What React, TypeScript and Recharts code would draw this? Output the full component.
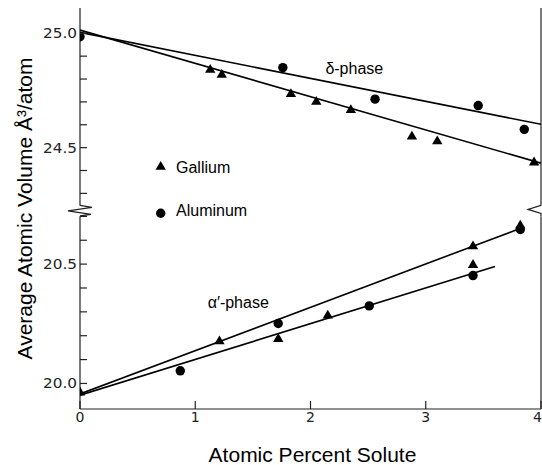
import React from 'react';
import { ComposedChart, Line, Scatter, XAxis, YAxis, ReferenceLine, ReferenceDot, Legend } from 'recharts';

// delta-phase (upper panel), A^3/atom
const gaDeltaX = [1.13, 1.23, 1.83, 2.05, 2.35, 2.88, 3.1, 3.94];
const gaDeltaV = [24.844, 24.822, 24.738, 24.704, 24.668, 24.552, 24.531, 24.439];
const alDeltaX = [0, 1.76, 2.56, 3.455, 3.855];
const alDeltaV = [24.985, 24.85, 24.712, 24.684, 24.58];

// alpha'-phase (lower panel)
const gaAlphaX = [0, 1.21, 1.72, 2.15, 3.41, 3.41, 3.82];
const gaAlphaV = [19.966, 20.18, 20.19, 20.288, 20.578, 20.5, 20.665];
const alAlphaX = [0.87, 1.72, 2.51, 3.41, 3.82];
const alAlphaV = [20.053, 20.251, 20.325, 20.452, 20.645];

// fitted straight lines (end points)
const gaDeltaFitX = [0, 4];
const gaDeltaFitV = [25.014, 24.432];
const alDeltaFitX = [0, 4];
const alDeltaFitV = [25.004, 24.602];
const gaAlphaFitX = [0, 3.85];
const gaAlphaFitV = [19.956, 20.655];
const alAlphaFitX = [0, 3.6];
const alAlphaFitV = [19.951, 20.49];

const xTicks = [0, 1, 2, 3, 4];
const lowerTicks = [20.0, 20.1, 20.2, 20.3, 20.4, 20.5, 20.6, 20.7];
const upperTicks = [24.3, 24.4, 24.5, 24.6, 24.7, 24.8, 24.9, 25.0];
const labelledTicks = [20.0, 20.5, 24.5, 25.0];
const legendNames = ['Gallium', 'Aluminum'];

// broken axis: the upper panel is drawn on the lower panel's axis, shifted and a bit squeezed
const UPPER_ANCHOR = 25.0;
const UPPER_ANCHOR_AT = 21.467;
const UPPER_SQUEEZE = 0.958;
const upper = (v: number) => UPPER_ANCHOR_AT + (v - UPPER_ANCHOR) * UPPER_SQUEEZE;
const Y_MIN = 19.893;
const Y_MAX = 21.573;
const BREAK_AT = 20.723;
const BREAK_GAP = 0.022;

const FONT = '"Liberation Sans", Arial, sans-serif';
const TICK_FONT = '"DejaVu Sans", sans-serif';
const AXIS = '#222';

const toPoints = (xs: number[], vs: number[], map = (v: number) => v) => xs.map((x, i) => ({ x, y: map(vs[i]) }));

const yTicks = [...lowerTicks, ...upperTicks.map(upper)];
const tickLabel = new Map<string, string>();
lowerTicks.forEach((t) => tickLabel.set(t.toFixed(4), labelledTicks.includes(t) ? t.toFixed(1) : ''));
upperTicks.forEach((t) => tickLabel.set(upper(t).toFixed(4), labelledTicks.includes(t) ? t.toFixed(1) : ''));

const Triangle = ({ cx, cy }: any) => (
	<path d={`M${cx},${cy - 5}L${cx + 5.2},${cy + 3.8}L${cx - 5.2},${cy + 3.8}Z`} fill='#000' />
);
const Dot = ({ cx, cy }: any) => <circle cx={cx} cy={cy} r={4.7} fill='#000' />;

const LeftTick = ({ x, y, payload }: any) => {
	const label = tickLabel.get(Number(payload.value).toFixed(4)) ?? '';
	return (
		<g>
			<line x1={x} y1={y} x2={x + 7} y2={y} stroke={AXIS} strokeWidth={1.2} />
			{label && (
				<text x={x - 3} y={y} dy={5} textAnchor='end' fontSize={14} fontFamily={TICK_FONT} fill={AXIS} textLength={34} lengthAdjust='spacingAndGlyphs'>
					{label}
				</text>
			)}
		</g>
	);
};
const RightTick = ({ x, y }: any) => <line x1={x} y1={y} x2={x - 7} y2={y} stroke={AXIS} strokeWidth={1.2} />;
const BottomTick = ({ x, y, payload }: any) => {
	// last label sits on the right edge of the picture, keep it inside
	const last = payload.value === xTicks[xTicks.length - 1];
	return (
		<g>
			<line x1={x} y1={y} x2={x} y2={y - 8} stroke={AXIS} strokeWidth={1.2} />
			<text x={last ? x + 1 : x} y={y + 13} textAnchor={last ? 'end' : 'middle'} fontSize={14} fontFamily={TICK_FONT} fill={AXIS}>
				{payload.value}
			</text>
		</g>
	);
};
const TopTick = ({ x, y }: any) => <line x1={x} y1={y} x2={x} y2={y + 8} stroke={AXIS} strokeWidth={1.2} />;

// zigzags where the axis is broken
const LeftBreak = ({ cx, cy }: any) => (
	<path
		d={`M${cx},${cy - 5.5}L${cx + 12},${cy - 3.5}L${cx - 12},${cy}L${cx + 11},${cy + 3.5}L${cx},${cy + 5}`}
		fill='none'
		stroke={AXIS}
		strokeWidth={1.2}
	/>
);
const RightBreak = ({ cx, cy }: any) => (
	<path d={`M${cx},${cy - 5.5}L${cx - 13},${cy - 1.5}L${cx},${cy + 2.5}L${cx},${cy + 5}`} fill='none' stroke={AXIS} strokeWidth={1.2} />
);

const LegendBox = () => (
	<svg width={130} height={75} style={{ display: 'block' }}>
		<Triangle cx={10.7} cy={16} />
		<text x={26} y={22.5} fontSize={16} fontFamily={FONT} fill='#000'>
			{legendNames[0]}
		</text>
		<Dot cx={10.7} cy={63.3} />
		<text x={26} y={65.7} fontSize={16} fontFamily={FONT} fill='#000'>
			{legendNames[1]}
		</text>
	</svg>
);

const fitLine = (data: { x: number; y: number }[], key: string) => (
	<Line
		key={key}
		data={data}
		dataKey='y'
		stroke='#000'
		strokeWidth={1.6}
		dot={false}
		activeDot={false}
		legendType='none'
		isAnimationActive={false}
	/>
);

export default function App() {
	return (
		<div style={{ position: 'absolute', left: 0, top: 0, width: 542, height: 465, background: '#fff' }}>
			<ComposedChart width={542} height={465} margin={{ top: 8, right: 1, bottom: 0, left: 0 }}>
				<XAxis
					dataKey='x'
					type='number'
					domain={[0, 4]}
					allowDataOverflow
					ticks={xTicks}
					interval={0}
					height={56}
					tickSize={0}
					tickMargin={0}
					tickLine={false}
					tick={BottomTick}
					axisLine={{ stroke: AXIS, strokeWidth: 1.2 }}
					label={{ value: 'Atomic Percent Solute', position: 'insideBottom', offset: 3, dx: 2, fontSize: 21, fill: '#000', fontFamily: FONT }}
				/>
				<XAxis
					xAxisId='top'
					orientation='top'
					type='number'
					domain={[0, 4]}
					allowDataOverflow
					ticks={xTicks}
					interval={0}
					height={0}
					tickSize={0}
					tickMargin={0}
					tickLine={false}
					tick={TopTick}
					axisLine={{ stroke: AXIS, strokeWidth: 1.2 }}
				/>
				<YAxis
					dataKey='y'
					type='number'
					domain={[Y_MIN, Y_MAX]}
					allowDataOverflow
					ticks={yTicks}
					interval={0}
					width={80}
					tickSize={0}
					tickMargin={0}
					tickLine={false}
					axisLine={false}
					tick={LeftTick}
					label={{
						value: 'Average Atomic Volume Å³/atom',
						angle: -90,
						position: 'insideLeft',
						offset: 25,
						fontSize: 21,
						fill: '#000',
						fontFamily: FONT,
						style: { textAnchor: 'middle' },
					}}
				/>
				<YAxis
					yAxisId='right'
					orientation='right'
					type='number'
					domain={[Y_MIN, Y_MAX]}
					allowDataOverflow
					ticks={yTicks}
					interval={0}
					width={0}
					tickSize={0}
					tickMargin={0}
					tickLine={false}
					axisLine={false}
					tick={RightTick}
				/>

				{/* vertical frame lines with a gap at the break */}
				<ReferenceLine segment={[{ x: 0, y: Y_MIN }, { x: 0, y: BREAK_AT - BREAK_GAP }]} stroke={AXIS} strokeWidth={1.2} ifOverflow='visible' />
				<ReferenceLine segment={[{ x: 0, y: BREAK_AT + BREAK_GAP }, { x: 0, y: Y_MAX }]} stroke={AXIS} strokeWidth={1.2} ifOverflow='visible' />
				<ReferenceLine segment={[{ x: 4, y: Y_MIN }, { x: 4, y: BREAK_AT - BREAK_GAP }]} stroke={AXIS} strokeWidth={1.2} ifOverflow='visible' />
				<ReferenceLine segment={[{ x: 4, y: BREAK_AT + BREAK_GAP }, { x: 4, y: Y_MAX }]} stroke={AXIS} strokeWidth={1.2} ifOverflow='visible' />
				<ReferenceDot x={0} y={BREAK_AT} r={0} shape={LeftBreak} ifOverflow='visible' />
				<ReferenceDot x={4} y={BREAK_AT} r={0} shape={RightBreak} ifOverflow='visible' />

				{fitLine(toPoints(gaDeltaFitX, gaDeltaFitV, upper), 'gaDeltaFit')}
				{fitLine(toPoints(alDeltaFitX, alDeltaFitV, upper), 'alDeltaFit')}
				{fitLine(toPoints(gaAlphaFitX, gaAlphaFitV), 'gaAlphaFit')}
				{fitLine(toPoints(alAlphaFitX, alAlphaFitV), 'alAlphaFit')}

				<Scatter data={toPoints(gaDeltaX, gaDeltaV, upper)} shape={Triangle} legendType='none' isAnimationActive={false} />
				<Scatter data={toPoints(alDeltaX, alDeltaV, upper)} shape={Dot} legendType='none' isAnimationActive={false} />
				<Scatter data={toPoints(gaAlphaX, gaAlphaV)} shape={Triangle} legendType='none' isAnimationActive={false} />
				<Scatter data={toPoints(alAlphaX, alAlphaV)} shape={Dot} legendType='none' isAnimationActive={false} />

				<ReferenceDot
					x={2.38}
					y={upper(24.848)}
					r={0}
					fill='none'
					stroke='none'
					label={{ value: 'δ-phase', position: 'center', fontSize: 16, fill: '#000', fontFamily: FONT }}
				/>
				<ReferenceDot
					x={1.373}
					y={20.342}
					r={0}
					fill='none'
					stroke='none'
					label={{ value: 'α′-phase', position: 'center', fontSize: 16, fill: '#000', fontFamily: FONT }}
				/>

				<Legend
					layout='vertical'
					align='center'
					verticalAlign='middle'
					content={LegendBox}
					wrapperStyle={{ left: 150, top: 150, width: 130, height: 75 }}
				/>
			</ComposedChart>
		</div>
	);
}
